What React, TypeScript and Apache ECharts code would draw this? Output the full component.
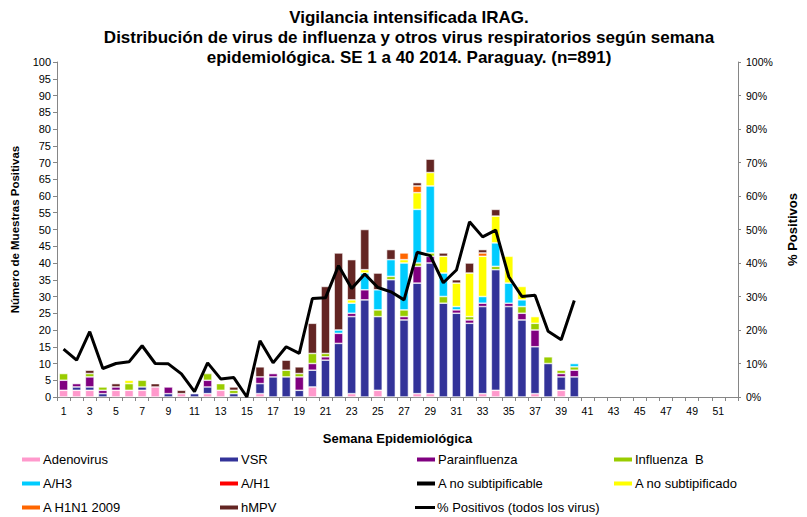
import React, { useEffect, useRef } from 'react';
import * as echarts from 'echarts';

// Semanas epidemiológicas 1..52
const weeks: string[] = Array.from({ length: 52 }, (_, i) => String(i + 1));

// Casos positivos por virus, semanas 1 a 40
const adenovirus = [2, 2, 2, 0, 2, 2, 2, 3, 0, 1, 0, 1, 2, 0, 0, 1, 0, 0, 0, 3, 0, 0, 1, 0, 2, 0, 0, 1, 1, 0, 0, 0, 1, 2, 0, 0, 1, 0, 2, 0];
const vsr = [0, 1, 1, 1, 0, 0, 1, 0, 1, 0, 1, 2, 0, 1, 0, 3, 6, 6, 2, 5, 11, 16, 23, 29, 22, 35, 23, 33, 39, 28, 25, 22, 26, 36, 27, 23, 14, 10, 4, 6];
const parainfluenza = [3, 1, 3, 1, 1, 0, 0, 0, 2, 0, 0, 2, 0, 0, 0, 2, 1, 0, 4, 2, 1, 3, 1, 3, 0, 0, 1, 5, 2, 0, 1, 1, 1, 0, 1, 2, 5, 0, 1, 2];
const influenzaB = [2, 0, 1, 1, 0, 2, 2, 0, 0, 0, 0, 2, 2, 1, 0, 0, 0, 2, 1, 3, 1, 0, 0, 0, 2, 1, 2, 1, 1, 2, 0, 1, 0, 1, 0, 2, 2, 2, 1, 1];
const aH3 = [0, 0, 0, 0, 0, 0, 0, 0, 0, 0, 0, 0, 0, 0, 0, 0, 0, 0, 0, 0, 0, 1, 3, 5, 6, 5, 14, 16, 20, 7, 1, 0, 2, 7, 6, 2, 0, 0, 0, 1];
const aH1: number[] = [];
const aNoSubtipificable: number[] = [];
const aNoSubtipificado = [0, 0, 0, 0, 0, 1, 0, 0, 0, 0, 0, 0, 0, 0, 0, 0, 0, 0, 0, 0, 0, 0, 1, 1, 0, 0, 1, 5, 4, 5, 7, 13, 12, 8, 8, 4, 2, 0, 0, 0];
const aH1N1 = [0, 0, 0, 0, 0, 0, 0, 0, 0, 0, 0, 0, 0, 0, 0, 0, 0, 0, 0, 0, 0, 0, 0, 0, 0, 0, 2, 2, 0, 0, 0, 0, 1, 0, 0, 0, 0, 0, 0, 0];
const hmpv = [0, 0, 1, 0, 1, 0, 0, 1, 0, 1, 0, 0, 0, 1, 0, 3, 0, 3, 2, 9, 20, 23, 12, 12, 5, 3, 0, 1, 4, 1, 1, 3, 1, 2, 0, 0, 0, 0, 0, 0];

// % positivos (todos los virus), semanas 1 a 40
const pctPositivos = [14.3, 11, 19.5, 8.5, 10, 10.5, 15.3, 10, 9.9, 6.9, 1.6, 10.2, 5.4, 5.8, 0, 16.8, 10.2, 15, 13, 29.4, 29.6, 39.2, 32.4, 36.7, 32.7, 31.4, 29, 43.2, 42.2, 34.1, 37.9, 52.3, 47.8, 49.8, 35.9, 30, 30.4, 19.6, 17.1, 28.8];

const virusSeries = [
  { name: 'Adenovirus', data: adenovirus, color: '#FF99CC' },
  { name: 'VSR', data: vsr, color: '#333399' },
  { name: 'Parainfluenza', data: parainfluenza, color: '#800080' },
  { name: 'Influenza  B', data: influenzaB, color: '#99CC00' },
  { name: 'A/H3', data: aH3, color: '#00CCFF' },
  { name: 'A/H1', data: aH1, color: '#FF0000' },
  { name: 'A no subtipificable', data: aNoSubtipificable, color: '#000000' },
  { name: 'A no subtipificado', data: aNoSubtipificado, color: '#FFFF00' },
  { name: 'A H1N1 2009', data: aH1N1, color: '#FF6600' },
  { name: 'hMPV', data: hmpv, color: '#632523' },
];
const lineName = '% Positivos (todos los virus)';

const FONT = "'Liberation Sans', Arial, sans-serif";

const App: React.FC = () => {
  const chartRef = useRef<HTMLDivElement>(null);

  useEffect(() => {
    if (!chartRef.current) return;
    const chart = echarts.init(chartRef.current, undefined, { renderer: 'svg' });

    // Legend laid out like the Excel one: 4 columns x 3 rows
    const legendNames = [...virusSeries.map(s => s.name), lineName];
    const colX = [20, 218, 415, 612];
    const rowTop = [453, 477, 501];
    const legends = legendNames.map((name, i) => ({
      show: true,
      left: colX[i % 4],
      top: rowTop[Math.floor(i / 4)],
      itemWidth: 20,
      itemHeight: 6,
      padding: 0,
      data: [
        name === lineName
          ? { name, icon: 'path://M0,0h20v3H0z' }
          : { name, icon: 'rect' },
      ],
      textStyle: { fontFamily: FONT, fontSize: 13, color: '#000', padding: [0, 0, 0, -3] },
      selectedMode: false,
    }));

    const option: echarts.EChartsOption = {
      animation: false,
      backgroundColor: '#fff',
      textStyle: { fontFamily: FONT },
      graphic: [
        {
          type: 'text',
          x: 409,
          y: 7,
          style: {
            text: 'Vigilancia intensificada IRAG.\nDistribución de virus de influenza y otros virus respiratorios según semana\nepidemiológica. SE 1 a 40 2014. Paraguay. (n=891)',
            align: 'center',
            font: `bold 17px ${FONT}`,
            lineHeight: 20,
            fill: '#000',
          },
        },
      ],
      legend: legends as any,
      grid: { left: 57, right: 54, top: 62, bottom: 120 },
      xAxis: {
        type: 'category',
        data: weeks,
        name: 'Semana Epidemiológica',
        nameLocation: 'middle',
        nameGap: 35,
        nameTextStyle: { fontFamily: FONT, fontSize: 13, fontWeight: 'bold', color: '#000' },
        axisLine: { lineStyle: { color: '#868686' } },
        axisTick: { show: true, interval: 0, length: 4, lineStyle: { color: '#868686' } },
        axisLabel: { interval: 1, fontSize: 10.5, color: '#000', margin: 8 },
      },
      yAxis: [
        {
          type: 'value',
          min: 0,
          max: 100,
          interval: 5,
          name: 'Número de Muestras Positivas',
          nameLocation: 'middle',
          nameGap: 36,
          nameTextStyle: { fontFamily: FONT, fontSize: 11.5, fontWeight: 'bold', color: '#000' },
          axisLine: { show: true, lineStyle: { color: '#868686' } },
          axisTick: { show: true, length: 4, lineStyle: { color: '#868686' } },
          axisLabel: { fontSize: 11, color: '#000', margin: 6 },
          splitLine: { show: false },
        },
        {
          type: 'value',
          min: 0,
          max: 100,
          interval: 10,
          position: 'right',
          name: '% Positivos',
          nameLocation: 'middle',
          nameGap: 48,
          nameRotate: 90,
          nameTextStyle: { fontFamily: FONT, fontSize: 13, fontWeight: 'bold', color: '#000' },
          axisLine: { show: true, lineStyle: { color: '#868686' } },
          axisTick: { show: true, length: 3, lineStyle: { color: '#868686' } },
          axisLabel: { fontSize: 10.5, color: '#000', margin: 8, formatter: '{value}%' },
          splitLine: { show: false },
        },
      ],
      series: [
        ...virusSeries.map(s => ({
          name: s.name,
          type: 'bar' as const,
          stack: 'virus',
          barCategoryGap: '33%',
          data: s.data.map(v => (v ? v : null)),
          itemStyle: { color: s.color, borderColor: '#ffffff', borderWidth: 0.6 },
        })),
        {
          name: lineName,
          type: 'line' as const,
          yAxisIndex: 1,
          data: pctPositivos,
          symbol: 'none',
          lineStyle: { color: '#000', width: 3 },
          itemStyle: { color: '#000' },
          z: 5,
        },
      ],
    };

    chart.setOption(option);
    return () => chart.dispose();
  }, []);

  return (
    <div
      ref={chartRef}
      style={{ position: 'absolute', left: 0, top: 0, width: 807, height: 517 }}
    />
  );
};

export default App;
